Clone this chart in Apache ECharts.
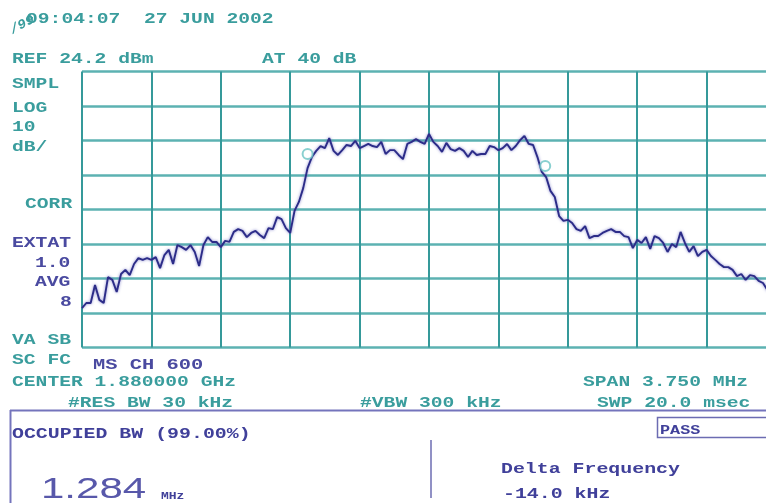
<!DOCTYPE html>
<html>
<head>
<meta charset="utf-8">
<script src="https://cdn.jsdelivr.net/npm/echarts@6/dist/echarts.min.js"></script>
<style>html,body{margin:0;padding:0;background:#fff}#c{width:766px;height:503px}</style>
</head>
<body>
<div id="c"></div>
<script>
// ---- instrument settings ----
const CENTER_MHZ = 1880.0;
const SPAN_MHZ = 3.75;
const REF_DBM = 24.2;
const DB_PER_DIV = 10;
const X_DIVS = 10;
const Y_DIVS = 8;

// ---- trace levels (dBm), one per sweep point ----
const levelDbm = [
  -44.4, -42.9, -42.9, -37.7, -42.0, -42.9, -35.4, -36.2, -39.7, -34.5,
  -33.3, -34.8, -31.6, -29.9, -30.4, -29.9, -30.4, -29.6, -32.8, -29.0,
  -27.5, -31.6, -26.1, -26.7, -27.5, -26.1, -28.1, -32.2, -26.1, -23.8,
  -25.2, -25.2, -26.7, -24.9, -25.2, -22.3, -21.5, -22.0, -23.8, -22.6,
  -22.0, -23.2, -24.1, -21.2, -21.5, -18.0, -18.6, -21.2, -22.6, -16.2,
  -13.6, -9.6, -3.8, -0.6, 1.2, 2.6, 2.0, 4.9, 1.2, 0.0,
  1.4, 2.9, 2.6, 4.1, 2.0, 2.6, 3.2, 2.6, 2.3, 3.8,
  0.3, 1.4, 1.4, 0.0, -1.2, 3.2, 3.8, 4.6, 3.8, 3.2,
  6.1, 3.8, 2.6, 0.9, 3.5, 1.7, 1.2, 2.0, 1.2, -0.6,
  1.2, 0.0, 0.3, 0.3, 2.6, 2.3, 1.4, 2.0, 3.2, 1.4,
  2.6, 4.3, 5.5, 3.2, 2.9, -0.6, -4.9, -6.4, -10.4, -12.2,
  -17.7, -19.1, -18.8, -19.7, -21.5, -22.0, -20.6, -24.1, -23.5, -23.5,
  -22.6, -22.0, -21.5, -22.3, -22.3, -23.5, -23.8, -27.0, -24.6, -25.5,
  -23.8, -27.2, -23.5, -24.1, -25.5, -28.1, -25.8, -26.7, -22.3, -25.5,
  -28.1, -26.4, -29.3, -28.1, -27.5, -29.3, -30.4, -31.6, -32.5, -32.5,
  -33.3, -35.1, -34.5, -36.2, -34.8, -35.1, -36.5, -37.1, -39.1, -38.6, -39.1
];

// ---- occupied bandwidth markers ----
const markerFreqMHz = [1879.344, 1880.628];
const markerDbm = [0.3, -3.2];

// ---- sweep point frequencies (instrument sweep grid) ----
const START_MHZ = CENTER_MHZ - SPAN_MHZ / 2;
const STOP_MHZ = CENTER_MHZ + SPAN_MHZ / 2;
const STEP_MHZ = SPAN_MHZ / (levelDbm.length - 1);
const traceData = levelDbm.map((v, i) => [START_MHZ + i * STEP_MHZ, v]);
const markerData = markerFreqMHz.map((f, i) => [f, markerDbm[i]]);

const TEAL = '#3a9d9d';
const PURPLE = '#4a4aa0';
const PANEL = '#40409a';
const MONO = '"Liberation Mono", "DejaVu Sans Mono", monospace';

function txt(text, x, y, color, opt) {
  opt = opt || {};
  return {
    type: 'text', x: x, y: y, scaleX: opt.sx || 1.31, rotation: opt.rot || 0,
    z: 10,
    style: {
      text: text, fill: color,
      font: (opt.font || ('bold ' + (opt.size || 15) + 'px ' + MONO)),
      textAlign: 'left', textVerticalAlign: 'middle', verticalAlign: 'middle'
    }
  };
}

const graphics = [
  txt('/99', 11, 31, TEAL, {font: 'italic bold 13px ' + MONO, sx: 1.1, rot: 0.5}),
  txt('09:04:07  27 JUN 2002', 26, 19.5, TEAL),
  txt('REF 24.2 dBm', 12, 59.5, TEAL),
  txt('AT 40 dB', 262, 59.5, TEAL),
  txt('SMPL', 12, 84.5, TEAL),
  txt('LOG', 12, 108, TEAL),
  txt('10', 12, 127.5, TEAL),
  txt('dB/', 12, 147, TEAL),
  txt('CORR', 25, 204.5, TEAL),
  txt('EXTAT', 12, 243, PURPLE),
  txt('1.0', 35, 263, PURPLE),
  txt('AVG', 35, 282, PURPLE),
  txt('8', 60, 302, PURPLE),
  txt('VA SB', 12, 340, TEAL),
  txt('SC FC', 12, 360, TEAL),
  txt('MS CH 600', 93, 365, PURPLE, {sx: 1.36}),
  txt('CENTER 1.880000 GHz', 12, 382, TEAL),
  txt('SPAN 3.750 MHz', 583, 382, TEAL),
  txt('#RES BW 30 kHz', 68, 403, TEAL),
  txt('#VBW 300 kHz', 360, 403, TEAL),
  txt('SWP 20.0 msec', 597, 403, TEAL),
  // lower panel
  {type: 'line', z: 10, shape: {x1: 10, y1: 410.5, x2: 766, y2: 410.5}, style: {stroke: '#7474bc', lineWidth: 2}},
  {type: 'line', z: 10, shape: {x1: 10.5, y1: 410, x2: 10.5, y2: 503}, style: {stroke: '#7474bc', lineWidth: 2}},
  {type: 'line', z: 10, shape: {x1: 431, y1: 440, x2: 431, y2: 498}, style: {stroke: '#6c6cb2', lineWidth: 1.5}},
  {type: 'rect', z: 10, shape: {x: 657.5, y: 417.5, width: 130, height: 20}, style: {fill: 'none', stroke: '#6c6cb2', lineWidth: 1.5}},
  txt('OCCUPIED BW (99.00%)', 12, 434, PANEL, {size: 14, sx: 1.42}),
  txt('PASS', 660, 431, PANEL, {size: 12, sx: 1.4}),
  txt('Delta Frequency', 501, 469, PANEL, {size: 14, sx: 1.42}),
  txt('-14.0 kHz', 503, 494, PANEL, {size: 14, sx: 1.42}),
  txt('1.284', 41, 490, '#5858aa', {font: '30px "Liberation Sans", Arial, sans-serif', sx: 1.4}),
  txt('MHz', 161, 496, PANEL, {size: 10, sx: 1.3})
];

const chart = echarts.init(document.getElementById('c'), null, {renderer: 'canvas'});
chart.setOption({
  animation: false,
  backgroundColor: '#ffffff',
  grid: {left: 82, top: 71.5, right: -10, bottom: 155.5, containLabel: false, outerBoundsMode: 'none'},
  xAxis: [
    {type: 'value', min: START_MHZ, max: STOP_MHZ, show: false, splitLine: {show: false}},
    {type: 'value', position: 'top', min: 0, max: X_DIVS, interval: 1,
     axisLine: {show: false}, axisTick: {show: false}, axisLabel: {show: false},
     splitLine: {show: true, lineStyle: {color: '#35999a', width: 2}}}
  ],
  yAxis: [
    {type: 'value', min: REF_DBM - Y_DIVS * DB_PER_DIV, max: REF_DBM, show: false, splitLine: {show: false}},
    {type: 'value', position: 'right', min: 0, max: Y_DIVS, interval: 1,
     axisLine: {show: false}, axisTick: {show: false}, axisLabel: {show: false},
     splitLine: {show: true, lineStyle: {color: '#5cb2b2', width: 2.5}}}
  ],
  series: [
    {type: 'line', xAxisIndex: 0, yAxisIndex: 0, data: traceData, showSymbol: false,
     lineStyle: {color: '#2c2c88', width: 1.9, shadowBlur: 3, shadowColor: 'rgba(100,100,190,0.8)'}, z: 3},
    {type: 'scatter', xAxisIndex: 0, yAxisIndex: 0, data: markerData, symbol: 'emptyCircle', symbolSize: 10,
     itemStyle: {color: '#6cc4c4', borderColor: '#6cc4c4', borderWidth: 1.5}, z: 4}
  ],
  graphic: graphics
});
</script>
</body>
</html>
